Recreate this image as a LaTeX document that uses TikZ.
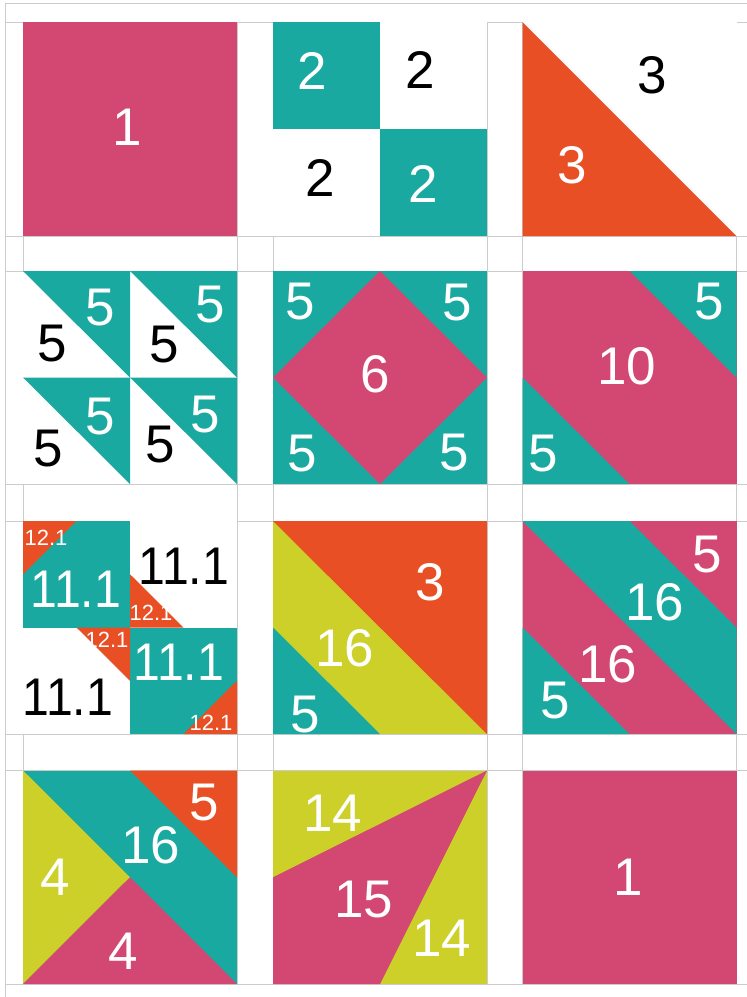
\documentclass[tikz,border=0pt]{standalone}
\usepackage{fontspec}
\usepackage{graphicx}
\setmainfont{Liberation Sans}
\definecolor{qpink}{RGB}{211,71,115}
\definecolor{qteal}{RGB}{26,169,160}
\definecolor{qorange}{RGB}{232,79,36}
\definecolor{qyellow}{RGB}{205,208,40}
\definecolor{qgrid}{RGB}{204,204,204}
\newcommand{\narrowtxt}[1]{\scalebox{0.91}[1]{#1}}
\begin{document}
\begin{tikzpicture}[x=1pt,y=-1pt,
  lw/.style={text=white,font=\fontsize{53}{60}\selectfont,inner sep=0pt},
  lb/.style={text=black,font=\fontsize{53}{60}\selectfont,inner sep=0pt},
  ls/.style={text=white,font=\fontsize{22}{26}\selectfont,inner sep=0pt},
  gridline/.style={draw=qgrid,line width=1pt}]
\useasboundingbox (0,0) rectangle (747,997);
\fill[white] (0,0) rectangle (747,997);
% grid
\foreach \yy in {3,22,236,271,484,521,734,770.5,984}
  \draw[gridline] (5,\yy) -- (747,\yy);
\draw[gridline] (5,3) -- (5,997);
\foreach \xx in {23,237,273,487,522.5,736.5}
  \draw[gridline] (\xx,22) -- (\xx,984);

% ---------- Row 1 ----------
% block 1,1
\fill[qpink] (23,22) rectangle (237,236);
\node[lw] (a1) at (127,127) {1};
% block 1,2
\fill[white] (273,22) rectangle (487,236);
\fill[qteal] (273,22) rectangle (380,129);
\fill[qteal] (380,129) rectangle (487,236);
\node[lw] (b1) at (312,71) {2};
\node[lb] (b2) at (420,70) {2};
\node[lb] (b3) at (320,178) {2};
\node[lw] (b4) at (423,184) {2};
% block 1,3
\fill[white] (522.5,22) rectangle (736.5,236);
\fill[qorange] (522.5,22) -- (522.5,236) -- (736.5,236) -- cycle;
\node[lb] (c1) at (652,75) {3};
\node[lw] (c2) at (572,165) {3};

% ---------- Row 2 ----------
% block 2,1
\fill[white] (23,271) rectangle (237,484);
\fill[qteal] (23,271) -- (130,271) -- (130,377.5) -- cycle;
\fill[qteal] (130,271) -- (237,271) -- (237,377.5) -- cycle;
\fill[qteal] (23,377.5) -- (130,377.5) -- (130,484) -- cycle;
\fill[qteal] (130,377.5) -- (237,377.5) -- (237,484) -- cycle;
\node[lw] (d1) at (100,308) {5};
\node[lb] (d2) at (52,344) {5};
\node[lw] (d3) at (210,305) {5};
\node[lb] (d4) at (164,345) {5};
\node[lw] (d5) at (100,417) {5};
\node[lb] (d6) at (48,449) {5};
\node[lw] (d7) at (205,415) {5};
\node[lb] (d8) at (160,445) {5};
% block 2,2
\fill[qteal] (273,271) rectangle (487,484);
\fill[qpink] (380,271) -- (487,377.5) -- (380,484) -- (273,377.5) -- cycle;
\node[lw] (e1) at (300,302) {5};
\node[lw] (e2) at (457,303) {5};
\node[lw] (e3) at (302,454) {5};
\node[lw] (e4) at (454,453) {5};
\node[lw] (e5) at (375,374) {6};
% block 2,3
\fill[qpink] (522.5,271) rectangle (736.5,484);
\fill[qteal] (629.5,271) -- (736.5,271) -- (736.5,377.5) -- cycle;
\fill[qteal] (522.5,377.5) -- (522.5,484) -- (629.5,484) -- cycle;
\node[lw] (f1) at (709,302) {5};
\node[lw] (f2) at (627,366) {10};
\node[lw] (f3) at (543,454) {5};

% ---------- Row 3 ----------
% block 3,1
\fill[white] (23,521) rectangle (237,734);
\fill[qteal] (23,521) rectangle (130,627.5);
\fill[qteal] (130,627.5) rectangle (237,734);
\fill[qorange] (23,521) -- (76.5,521) -- (23,574.25) -- cycle;
\fill[qorange] (130,574.25) -- (130,627.5) -- (183.5,627.5) -- cycle;
\fill[qorange] (76.5,627.5) -- (130,627.5) -- (130,680.75) -- cycle;
\fill[qorange] (237,680.75) -- (237,734) -- (183.5,734) -- cycle;
\node[ls] (g1) at (46,538) {12.1};
\node[lw] (g2) at (76,589) {\narrowtxt{11.1}};
\node[lb] (g3) at (184,566) {\narrowtxt{11.1}};
\node[ls] (g4) at (151,613) {12.1};
\node[ls] (g5) at (107,640) {12.1};
\node[lw] (g6) at (179,662) {\narrowtxt{11.1}};
\node[lb] (g7) at (68,697) {\narrowtxt{11.1}};
\node[ls] (g8) at (211,723) {12.1};
% block 3,2
\fill[qyellow] (273,521) rectangle (487,734);
\fill[qorange] (273,521) -- (487,521) -- (487,734) -- cycle;
\fill[qteal] (273,627.5) -- (273,734) -- (380,734) -- cycle;
\node[lw] (h1) at (430,582) {3};
\node[lw] (h2) at (345,648) {16};
\node[lw] (h3) at (305,715) {5};
% block 3,3
\fill[qpink] (522.5,521) rectangle (736.5,734);
\fill[qteal] (522.5,521) -- (629.5,521) -- (736.5,627.5) -- (736.5,734) -- cycle;
\fill[qteal] (522.5,627.5) -- (522.5,734) -- (629.5,734) -- cycle;
\node[lw] (i1) at (707,555) {5};
\node[lw] (i2) at (655,602) {16};
\node[lw] (i3) at (608,664) {16};
\node[lw] (i4) at (555,701) {5};

% ---------- Row 4 ----------
% block 4,1
\fill[qteal] (23,770.5) rectangle (237,984);
\fill[qyellow] (23,770.5) -- (130,877.25) -- (23,984) -- cycle;
\fill[qpink] (23,984) -- (130,877.25) -- (237,984) -- cycle;
\fill[qorange] (130,770.5) -- (237,770.5) -- (237,877.25) -- cycle;
\node[lw] (j1) at (204,803) {5};
\node[lw] (j2) at (151,845) {16};
\node[lw] (j3) at (55,877) {4};
\node[lw] (j4) at (123,951) {4};
% block 4,2
\fill[qyellow] (273,770.5) rectangle (487,984);
\fill[qpink] (487,770.5) -- (273,877.25) -- (273,984) -- (380,984) -- cycle;
\node[lw] (k1) at (333,813) {14};
\node[lw] (k2) at (364,900) {15};
\node[lw] (k3) at (442,938) {14};
% block 4,3
\fill[qpink] (522.5,770.5) rectangle (736.5,984);
\node[lw] (l1) at (628,877) {1};
\end{tikzpicture}
\end{document}
